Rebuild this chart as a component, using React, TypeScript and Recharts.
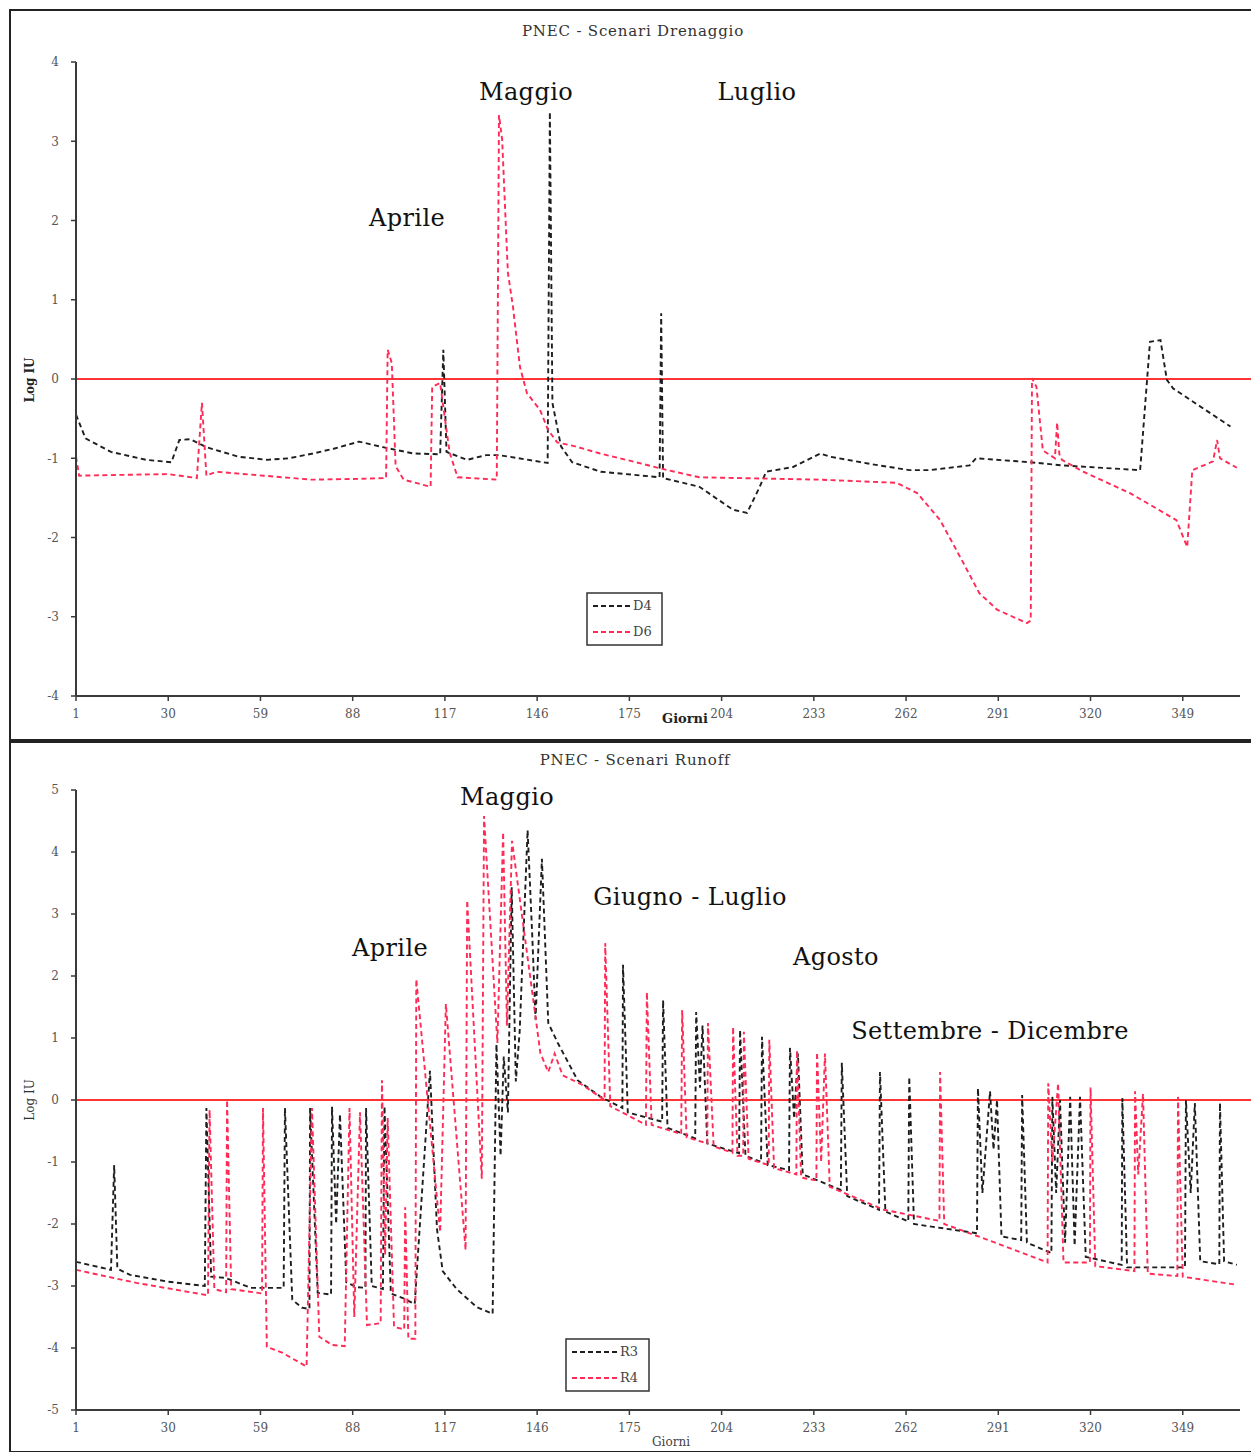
import React from 'react';
import { LineChart, Line, XAxis, YAxis, ReferenceLine } from 'recharts';

// ---------- Data (day, Log IU) ----------
const X_TICKS = [1, 30, 59, 88, 117, 146, 175, 204, 233, 262, 291, 320, 349];
const TOP_Y_TICKS = [-4, -3, -2, -1, 0, 1, 2, 3, 4];
const BOTTOM_Y_TICKS = [-5, -4, -3, -2, -1, 0, 1, 2, 3, 4, 5];

const D4: [number, number][] = [
  [1, -0.45], [4, -0.75], [12, -0.92], [23, -1.02], [31, -1.05], [33.5, -0.77], [37, -0.76], [42, -0.86],
  [52, -0.98], [61, -1.02], [68, -1.0], [75.5, -0.94], [82, -0.88], [90, -0.79], [97.5, -0.86], [107, -0.94],
  [115.5, -0.95], [116.5, 0.37], [117.5, -0.92], [124, -1.02], [130, -0.96], [134, -0.96], [149.3, -1.06],
  [150, 3.37], [150.8, -0.3], [153.5, -0.85], [157, -1.05], [166, -1.17], [184.5, -1.24], [185, 0.83],
  [185.6, -1.25], [197, -1.36], [207.6, -1.65], [212, -1.69], [216, -1.36], [218, -1.17], [226.5, -1.11],
  [235, -0.94], [238, -0.98], [252, -1.08], [263, -1.15], [269.5, -1.15], [282, -1.09], [284, -1.0],
  [301, -1.05], [311, -1.09], [335.6, -1.15], [338.7, 0.47], [342, 0.49], [344, -0.01], [346, -0.12], [364, -0.6],
];

const D6: [number, number][] = [
  [1, -0.98], [2, -1.22], [15, -1.21], [30, -1.2], [39, -1.25], [40.6, -0.3], [42, -1.22], [45, -1.17],
  [60, -1.22], [75, -1.27], [90, -1.26], [98.5, -1.25], [99, 0.37], [100.3, 0.2], [101.5, -1.1], [104, -1.27],
  [112.5, -1.36], [113, -0.1], [115.5, -0.05], [117, -0.5], [118.5, -0.93], [121, -1.24], [133.3, -1.27],
  [134, 3.33], [135, 3.02], [135.9, 2.17], [136.8, 1.34], [138.4, 0.91], [140.6, 0.15], [142.8, -0.18],
  [146.9, -0.39], [149.4, -0.64], [152.3, -0.8], [158, -0.85], [165.8, -0.94], [176, -1.04], [187, -1.15],
  [197, -1.24], [235, -1.27], [259, -1.31], [265.5, -1.44], [272.7, -1.78], [280, -2.32], [285, -2.7],
  [290.6, -2.91], [300, -3.08], [301.2, -3.05], [301.6, 0.01], [303, -0.1], [305, -0.9], [308.8, -1.0],
  [309.5, -0.55], [310.2, -0.95], [311, -1.02], [317.7, -1.17], [332.4, -1.44], [347, -1.78], [350.4, -2.12],
  [352, -1.15], [358.5, -1.04], [359.8, -0.77], [360.7, -1.0], [366, -1.12],
];

const R3: [number, number][] = [
  [1, -2.61], [12, -2.74], [13, -1.05], [14, -2.72], [18, -2.82], [30, -2.93], [41.5, -3.0], [42, -0.13],
  [43.5, -2.85], [48, -2.87], [56, -3.03], [66.3, -3.03], [66.7, -0.13], [69, -3.22], [72, -3.35],
  [74.4, -3.37], [74.6, -0.13], [77, -3.11], [81.2, -3.14], [81.5, -0.11], [82.8, -2.0], [84, -0.23],
  [86, -2.94], [89.5, -3.02], [92, -3.03], [92.2, -0.13], [94, -3.0], [97.5, -3.05], [98, -0.1], [100, -3.12],
  [104, -3.2], [107.5, -3.29], [112.3, 0.47], [114.5, -2.08], [116.3, -2.76], [120.7, -3.05], [127, -3.34],
  [132, -3.45], [133.2, 0.9], [134.5, -0.9], [135.5, 0.7], [136.8, -0.2], [138, 3.43], [139.3, 0.3],
  [140.5, 1.1], [143, 4.35], [144.5, 2.6], [145.5, 1.3], [147.5, 3.89], [149.5, 1.24], [152.5, 0.92],
  [158.7, 0.32], [166, 0.05], [172.8, -0.13], [173, 2.18], [174.5, -0.2], [185.3, -0.35], [185.6, 1.61],
  [187, -0.45], [195.7, -0.62], [196, 1.42], [197.2, 0.2], [198, 1.2], [199.5, -0.7], [209.5, -0.86],
  [209.8, 1.13], [211.5, -0.9], [216.4, -1.0], [216.7, 1.02], [218.5, -1.05], [225.2, -1.13], [225.5, 0.84],
  [226.8, -0.3], [228, 0.75], [229.5, -1.2], [241.5, -1.45], [241.8, 0.6], [243.5, -1.55], [253.5, -1.77],
  [253.8, 0.45], [255.5, -1.8], [262.7, -1.96], [263, 0.37], [264.5, -2.0], [284.3, -2.15], [284.6, 0.19],
  [286, -1.5], [288.4, 0.14], [289.5, -0.8], [290.6, 0.0], [292, -2.2], [298.2, -2.26], [298.5, 0.08],
  [300, -2.3], [307.7, -2.47], [308, 0.05], [309.2, -1.5], [310.4, 0.0], [312, -2.3], [313.6, 0.05],
  [315, -2.35], [316.7, 0.05], [318.5, -2.53], [329.8, -2.66], [330, 0.03], [331.5, -2.7], [349.7, -2.7],
  [350, 0.0], [351.5, -1.5], [352.8, -0.05], [354.5, -2.6], [360.5, -2.65], [360.7, -0.05], [362, -2.6],
  [366, -2.66],
];

const R4: [number, number][] = [
  [1, -2.74], [20, -2.95], [42.5, -3.15], [43, -0.16], [44.5, -3.05], [48.2, -3.1], [48.5, 0.0],
  [49.8, -3.05], [59.5, -3.12], [59.8, -0.13], [61, -3.98], [66, -4.08], [73.5, -4.3], [75.2, -0.13],
  [77.5, -3.82], [81.5, -3.95], [85.5, -3.97], [87, -0.13], [88.5, -3.5], [90.3, -0.2], [92.5, -3.63],
  [96.8, -3.6], [97.2, 0.32], [98.2, -2.5], [99, -0.29], [101, -3.66], [104.2, -3.7], [104.5, -1.73],
  [105.5, -3.85], [107.7, -3.85], [108, 1.95], [115.5, -2.13], [117.3, 1.55], [123.5, -2.42], [124, 3.22],
  [128.6, -1.27], [129.3, 4.58], [133.5, 0.92], [135.3, 4.32], [136.5, 1.2], [138.1, 4.18], [147, 0.76],
  [149.5, 0.45], [151.5, 0.75], [154, 0.4], [160, 0.25], [167.2, 0.0], [167.4, 2.53], [169, -0.1],
  [180.2, -0.4], [180.5, 1.74], [182, -0.4], [191.3, -0.55], [191.6, 1.45], [193, -0.6], [199.5, -0.7],
  [199.7, 1.24], [201.5, -0.75], [207.4, -0.85], [207.6, 1.18], [209, -0.9], [210.8, -0.9], [211, 1.1],
  [212.5, -0.95], [218.8, -1.05], [219, 0.97], [220.5, -1.1], [227.5, -1.2], [227.7, 0.8], [229, -1.25],
  [233.8, -1.3], [234, 0.77], [235.3, -1.0], [236.5, 0.75], [238, -1.4], [255, -1.77], [272.5, -1.95],
  [272.7, 0.45], [274, -2.0], [290, -2.3], [306.5, -2.62], [306.7, 0.27], [308, -1.0], [309.8, 0.27],
  [311.5, -2.62], [319.8, -2.62], [320, 0.2], [321.5, -2.68], [333.8, -2.76], [334, 0.14], [335, -1.2],
  [336.5, 0.1], [338, -2.8], [347.3, -2.84], [347.5, 0.05], [349, -2.85], [366, -2.98],
];

const TOP_TITLE = 'PNEC - Scenari Drenaggio';
const BOTTOM_TITLE = 'PNEC - Scenari Runoff';

// ---------- Styling ----------
const SERIF = '"DejaVu Serif", "Liberation Serif", serif';
const BLACK = '#1e1e1e';
const RED = '#ff2a55';
const REF_RED = '#ff3434';
const AXIS = '#3a3a3a';

const toPts = (arr: [number, number][]) => arr.map(([day, v]) => ({ day, v }));

const tickStyle = { fontFamily: SERIF, fontSize: 12, fill: '#555' };

function Annot({ x, y, text }: { x: number; y: number; text: string }) {
  return (
    <div
      style={{
        position: 'absolute',
        left: x,
        top: y,
        transform: 'translate(-50%, -50%)',
        fontFamily: SERIF,
        fontSize: 24,
        lineHeight: 1,
        color: '#111',
        whiteSpace: 'nowrap',
        letterSpacing: 0.4,
      }}
    >
      {text}
    </div>
  );
}

function LegendBox({ left, top, width, labels }: { left: number; top: number; width: number; labels: string[] }) {
  return (
    <svg style={{ position: 'absolute', left, top }} width={width} height={54}>
      <rect x={1} y={1} width={width - 2} height={52} fill="#fff" stroke="#333" strokeWidth={1.5} />
      <line x1={7} x2={width - 32} y1={14} y2={14} stroke={BLACK} strokeWidth={1.8} strokeDasharray="5 3" />
      <line x1={7} x2={width - 32} y1={40} y2={40} stroke={RED} strokeWidth={1.8} strokeDasharray="5 3" />
      <text x={width - 30} y={18} fontFamily={SERIF} fontSize={13} fill="#444">{labels[0]}</text>
      <text x={width - 30} y={44} fontFamily={SERIF} fontSize={13} fill="#444">{labels[1]}</text>
    </svg>
  );
}

function Panel({
  top,
  height,
  marginTop,
  marginBottom,
  yDomain,
  yTicks,
  black,
  red,
}: {
  top: number;
  height: number;
  marginTop: number;
  marginBottom: number;
  yDomain: [number, number];
  yTicks: number[];
  black: [number, number][];
  red: [number, number][];
}) {
  return (
    <div style={{ position: 'absolute', left: 10, top, width: 1241, height }}>
      <LineChart
        width={1241}
        height={height}
        margin={{ top: marginTop, right: 11, bottom: marginBottom, left: 26 }}
      >
        <XAxis
          type="number"
          dataKey="day"
          domain={[1, 367]}
          ticks={X_TICKS}
          allowDataOverflow
          height={30}
          tick={tickStyle}
          tickSize={5}
          tickMargin={8}
          axisLine={{ stroke: AXIS, strokeWidth: 2 }}
          tickLine={{ stroke: AXIS, strokeWidth: 1.5 }}
          interval={0}
        />
        <YAxis
          type="number"
          domain={yDomain}
          ticks={yTicks}
          allowDataOverflow
          width={40}
          tick={tickStyle}
          tickSize={5}
          tickMargin={12}
          axisLine={{ stroke: AXIS, strokeWidth: 2 }}
          tickLine={{ stroke: AXIS, strokeWidth: 1.5 }}
          interval={0}
        />
        <ReferenceLine
          segment={[{ x: 1, y: 0 }, { x: 370.5, y: 0 }]}
          ifOverflow="visible"
          stroke={REF_RED}
          strokeWidth={2}
        />
        <Line
          data={toPts(black)}
          dataKey="v"
          type="linear"
          stroke={BLACK}
          strokeWidth={1.9}
          strokeDasharray="5 3.5"
          dot={false}
          isAnimationActive={false}
        />
        <Line
          data={toPts(red)}
          dataKey="v"
          type="linear"
          stroke={RED}
          strokeWidth={1.9}
          strokeDasharray="5 3.5"
          dot={false}
          isAnimationActive={false}
        />
      </LineChart>
    </div>
  );
}

export default function App() {
  return (
    <div style={{ position: 'absolute', left: 0, top: 0, width: 1251, height: 1452, background: '#fff', overflow: 'hidden' }}>
      {/* frames */}
      <div style={{ position: 'absolute', left: 9, top: 9, width: 1260, height: 730, border: '2px solid #222' }} />
      <div style={{ position: 'absolute', left: 9, top: 739, width: 1260, height: 710, border: '2px solid #222' }} />

      <Panel top={10} height={730} marginTop={52} marginBottom={14} yDomain={[-4, 4]} yTicks={TOP_Y_TICKS} black={D4} red={D6} />
      <Panel top={740} height={710} marginTop={50} marginBottom={10} yDomain={[-5, 5]} yTicks={BOTTOM_Y_TICKS} black={R3} red={R4} />

      {/* titles */}
      <div style={{ position: 'absolute', left: 633, top: 31, transform: 'translate(-50%,-50%)', fontFamily: SERIF, fontSize: 15, letterSpacing: 0.8, color: '#333', whiteSpace: 'nowrap' }}>{TOP_TITLE}</div>
      <div style={{ position: 'absolute', left: 635, top: 760, transform: 'translate(-50%,-50%)', fontFamily: SERIF, fontSize: 15, letterSpacing: 0.8, color: '#333', whiteSpace: 'nowrap' }}>{BOTTOM_TITLE}</div>

      {/* axis labels */}
      <div style={{ position: 'absolute', left: 30, top: 380, transform: 'translate(-50%,-50%) rotate(-90deg)', fontFamily: SERIF, fontSize: 12, fontWeight: 'bold', color: '#222', whiteSpace: 'nowrap' }}>Log IU</div>
      <div style={{ position: 'absolute', left: 30, top: 1100, transform: 'translate(-50%,-50%) rotate(-90deg)', fontFamily: SERIF, fontSize: 12, color: '#333', whiteSpace: 'nowrap' }}>Log IU</div>
      <div style={{ position: 'absolute', left: 685, top: 718, transform: 'translate(-50%,-50%)', fontFamily: SERIF, fontSize: 13, fontWeight: 'bold', color: '#222', whiteSpace: 'nowrap' }}>Giorni</div>
      <div style={{ position: 'absolute', left: 671, top: 1442, transform: 'translate(-50%,-50%)', fontFamily: SERIF, fontSize: 12, color: '#444', whiteSpace: 'nowrap' }}>Giorni</div>

      {/* annotations */}
      <Annot x={407} y={218} text="Aprile" />
      <Annot x={526} y={92} text="Maggio" />
      <Annot x={757} y={92} text="Luglio" />
      <Annot x={507} y={797} text="Maggio" />
      <Annot x={690} y={897} text="Giugno - Luglio" />
      <Annot x={390} y={948} text="Aprile" />
      <Annot x={836} y={957} text="Agosto" />
      <Annot x={990} y={1031} text="Settembre - Dicembre" />

      {/* legends */}
      <LegendBox left={586} top={592} width={77} labels={['D4', 'D6']} />
      <LegendBox left={565} top={1338} width={85} labels={['R3', 'R4']} />
    </div>
  );
}
